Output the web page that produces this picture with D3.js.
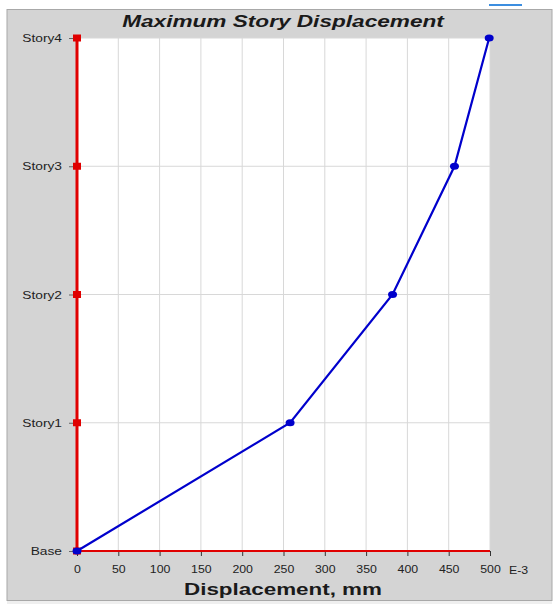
<!DOCTYPE html>
<html>
<head>
<meta charset="utf-8">
<script src="https://cdn.jsdelivr.net/npm/d3@7"></script>
<style>
  body { margin: 0; background: #fff; }
  svg { display: block; font-family: "Liberation Sans", Arial, sans-serif; }
</style>
</head>
<body>
<svg width="555" height="604"></svg>
<script>
// story levels, bottom to top
const stories = ['Base', 'Story1', 'Story2', 'Story3', 'Story4'];
// displacement, mm x 1E-3
const displacement = [0, 258, 382, 457, 499];
const xTicks = [0, 50, 100, 150, 200, 250, 300, 350, 400, 450, 500];

const svg = d3.select('svg');

// the source text is a bit wider than the font, stretch it
function stretch(sel, k) {
  sel.each(function () {
    const w = this.getComputedTextLength();
    d3.select(this).attr('textLength', w * k).attr('lengthAdjust', 'spacingAndGlyphs');
  });
}

// outer grey panel
svg.append('rect').attr('x', 0).attr('y', 0).attr('width', 555).attr('height', 604).attr('fill', '#fff');
svg.append('rect').attr('x', 7).attr('y', 9.5).attr('width', 545).attr('height', 591)
  .attr('fill', '#d4d4d4').attr('stroke', '#a8a8a8').attr('stroke-width', 1);
svg.append('rect').attr('x', 7).attr('y', 601).attr('width', 545).attr('height', 3).attr('fill', '#efefef');
// little blue strip at the top right (window artifact)
svg.append('rect').attr('x', 489).attr('y', 4).attr('width', 33).attr('height', 2).attr('fill', '#3c8ee0');

const x = d3.scaleLinear().domain([0, 500]).range([77, 490]);
const y = d3.scalePoint().domain(stories).range([551, 38]);

// plot area
svg.append('rect').attr('x', x(0)).attr('y', y('Story4'))
  .attr('width', x(500) - x(0)).attr('height', y('Base') - y('Story4')).attr('fill', '#fff');

// grid
svg.append('g').selectAll('line').data(xTicks.slice(1)).join('line')
  .attr('x1', d => x(d)).attr('x2', d => x(d))
  .attr('y1', y('Story4')).attr('y2', y('Base'))
  .attr('stroke', '#d8d8d8').attr('stroke-width', 1);
svg.append('g').selectAll('line').data(stories.slice(1)).join('line')
  .attr('x1', x(0)).attr('x2', x(500))
  .attr('y1', d => y(d)).attr('y2', d => y(d))
  .attr('stroke', '#d8d8d8').attr('stroke-width', 1);

// x axis
const xAxis = svg.append('g').attr('transform', `translate(0,${y('Base')})`)
  .call(d3.axisBottom(x).tickValues(xTicks).tickSize(5).tickPadding(9));
xAxis.select('.domain').remove();
xAxis.selectAll('.tick line').attr('stroke', '#333');
xAxis.selectAll('.tick text').attr('fill', '#222').style('font-size', '11px').call(stretch, 1.12);
svg.append('line').attr('x1', x(0)).attr('x2', x(500)).attr('y1', y('Base')).attr('y2', y('Base'))
  .attr('stroke', '#e00000').attr('stroke-width', 1.8);
svg.append('text').attr('x', x(500) + 19).attr('y', y('Base') + 23)
  .attr('fill', '#222').style('font-size', '11px').text('E-3').call(stretch, 1.12);

// y axis
const yAxis = svg.append('g').attr('transform', `translate(${x(0)},0)`)
  .call(d3.axisLeft(y).tickSize(8).tickPadding(7));
yAxis.select('.domain').remove();
yAxis.selectAll('.tick line').attr('stroke', '#666');
yAxis.selectAll('.tick text').attr('fill', '#222').style('font-size', '11px').call(stretch, 1.25);
svg.append('line').attr('x1', x(0)).attr('x2', x(0)).attr('y1', y('Story4')).attr('y2', y('Base'))
  .attr('stroke', '#e00000').attr('stroke-width', 3);
svg.append('g').selectAll('rect').data(stories).join('rect')
  .attr('x', x(0) - 4).attr('y', d => y(d) - 3.5).attr('width', 8).attr('height', 7)
  .attr('fill', '#e00000');

// displacement profile
const pts = stories.map((s, i) => [x(displacement[i]), y(s)]);
svg.append('path').attr('d', d3.line()(pts))
  .attr('fill', 'none').attr('stroke', '#0000cc').attr('stroke-width', 2.2);
svg.append('g').selectAll('ellipse').data(pts).join('ellipse')
  .attr('cx', d => d[0]).attr('cy', d => d[1]).attr('rx', 4.5).attr('ry', 3.5)
  .attr('fill', '#0000cc');

// titles
svg.append('text').attr('x', 283).attr('y', 27).attr('text-anchor', 'middle')
  .style('font-size', '17px').style('font-weight', 'bold').style('font-style', 'italic')
  .attr('fill', '#1a1a1a').text('Maximum Story Displacement').call(stretch, 1.33);
svg.append('text').attr('x', 283).attr('y', 595).attr('text-anchor', 'middle')
  .style('font-size', '16px').style('font-weight', 'bold')
  .attr('fill', '#1a1a1a').text('Displacement, mm').call(stretch, 1.4);
</script>
</body>
</html>
